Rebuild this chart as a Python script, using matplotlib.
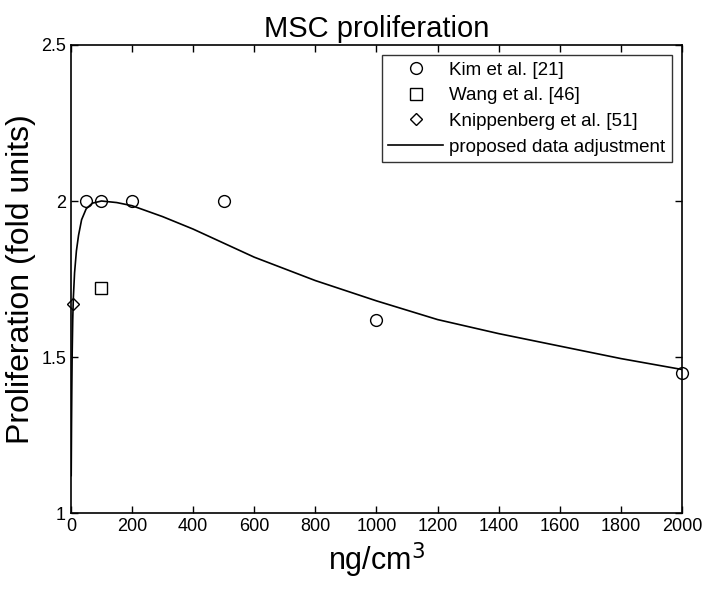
import matplotlib
matplotlib.use("Agg")
import matplotlib.pyplot as plt

kim_x = [50, 100, 200, 500, 1000, 2000]
kim_y = [2.0, 2.0, 2.0, 2.0, 1.62, 1.45]
wang_x = [100]
wang_y = [1.72]
knip_x = [8]
knip_y = [1.67]
fit_x = [1, 2, 3, 4, 6, 8, 12, 18, 25, 35, 50, 70, 100, 150, 200, 300, 400, 500,
         600, 800, 1000, 1200, 1400, 1600, 1800, 2000]
fit_y = [1.12, 1.28, 1.40, 1.50, 1.62, 1.69, 1.77, 1.84, 1.89, 1.94, 1.975, 1.993,
         2.0, 1.995, 1.985, 1.95, 1.91, 1.865, 1.82, 1.745, 1.68, 1.62, 1.575,
         1.535, 1.495, 1.46]
xticks = [0, 200, 400, 600, 800, 1000, 1200, 1400, 1600, 1800, 2000]
yticks = [1, 1.5, 2, 2.5]
ytick_labels = ["1", "1.5", "2", "2.5"]

plt.rcParams['font.family'] = ['Liberation Sans', 'DejaVu Sans']
fig = plt.figure(figsize=(7.02, 5.89), dpi=100)
ax = fig.add_axes([0.101, 0.129, 0.8705, 0.7946])

ax.plot(kim_x, kim_y, linestyle='none', marker='o', markersize=8.5,
        markerfacecolor='none', markeredgecolor='black', markeredgewidth=1.0,
        label='Kim et al. [21]', clip_on=False, zorder=3)
ax.plot(wang_x, wang_y, linestyle='none', marker='s', markersize=8.5,
        markerfacecolor='none', markeredgecolor='black', markeredgewidth=1.0,
        label='Wang et al. [46]', zorder=3)
ax.plot(knip_x, knip_y, linestyle='none', marker='D', markersize=6.5,
        markerfacecolor='none', markeredgecolor='black', markeredgewidth=1.0,
        label='Knippenberg et al. [51]', clip_on=False, zorder=3)
ax.plot(fit_x, fit_y, color='black', linewidth=1.2, label='proposed data adjustment')

ax.set_xlim(0, 2000)
ax.set_ylim(1, 2.5)
ax.set_xticks(xticks)
ax.set_yticks(yticks)
ax.set_yticklabels(ytick_labels)
ax.tick_params(direction='in', top=True, right=True, length=5, labelsize=13, width=1)
for s in ax.spines.values():
    s.set_linewidth(1.2)

ax.set_title('MSC proliferation', fontsize=21, pad=6)
ax.set_xlabel('ng/cm$^3$', fontsize=22, labelpad=4)
ax.set_ylabel('Proliferation (fold units)', fontsize=23, labelpad=4)

leg = ax.legend(loc='upper right', fontsize=13.5, frameon=True, fancybox=False,
                edgecolor='black', bbox_to_anchor=(0.9836, 0.9782),
                borderaxespad=0.0, handlelength=2.9, handletextpad=0.35,
                labelspacing=0.45, borderpad=0.35)
leg.get_frame().set_linewidth(1.0)

fig.savefig('out.png', dpi=100)
